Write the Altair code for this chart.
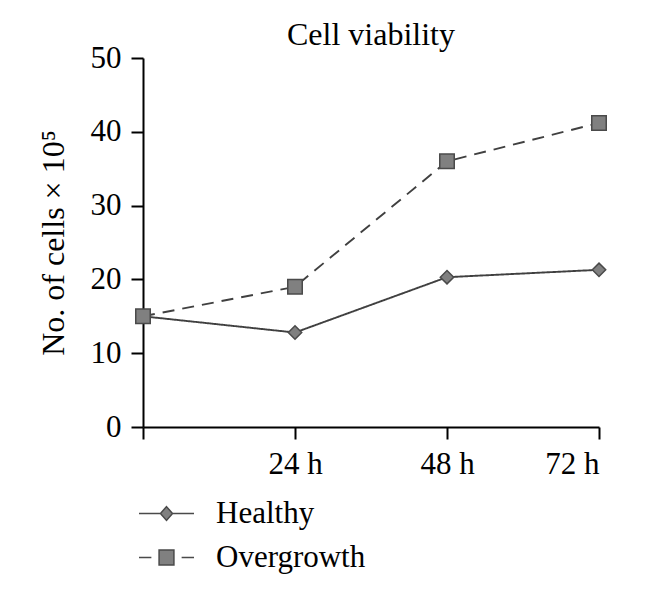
import altair as alt
import pandas as pd

hours = [0, 24, 48, 72]
healthy = [15.0, 12.8, 20.3, 21.3]
overgrowth = [15.0, 19.0, 36.0, 41.2]
series_names = ["Healthy", "Overgrowth"]

rows = []
for h, v in zip(hours, healthy):
    rows.append({"hour": h, "value": v, "series": "Healthy"})
for h, v in zip(hours, overgrowth):
    rows.append({"hour": h, "value": v, "series": "Overgrowth"})
df = pd.DataFrame(rows)
df["key"] = df["series"]

FONT = "Liberation Serif"
LINE = "#404040"
FILL = "#808080"
EDGE = "#4a4a4a"
FS = 31

diamond_path = "M-1,0H-0.22M0.22,0H1M0,-0.25L0.22,0L0,0.25L-0.22,0Z"
square_path = "M-1,0H-0.55M0.55,0H1M-0.27,-0.27H0.27V0.27H-0.27Z"

x_enc = alt.X(
    "hour:Q",
    scale=alt.Scale(domain=[0, 72], nice=False, zero=False),
    axis=alt.Axis(
        values=hours,
        labelExpr="datum.value == 0 ? '' : datum.value + ' h'",
        title=None,
        grid=False,
        domainColor="black",
        domainWidth=2,
        tickColor="black",
        tickWidth=2,
        tickSize=12,
        labelPadding=10,
        labelFont=FONT,
        labelFontSize=FS,
        labelColor="black",
    ),
)
y_enc = alt.Y(
    "value:Q",
    scale=alt.Scale(domain=[0, 50], nice=False),
    axis=alt.Axis(
        values=[0, 10, 20, 30, 40, 50],
        title="No. of cells × 10⁵",
        titleFont=FONT,
        titleFontSize=32,
        titleFontWeight="normal",
        titleColor="black",
        titlePadding=20,
        grid=False,
        domainColor="black",
        domainWidth=2,
        tickColor="black",
        tickWidth=2,
        tickSize=12,
        labelPadding=10,
        labelFont=FONT,
        labelFontSize=FS,
        labelColor="black",
    ),
)

lines = alt.Chart(df).mark_line(color=LINE, strokeWidth=1.9).encode(
    x=x_enc,
    y=y_enc,
    strokeDash=alt.StrokeDash(
        "series:N",
        scale=alt.Scale(domain=series_names, range=[[1, 0], [12, 8]]),
        legend=None,
    ),
    detail="series:N",
)

points = alt.Chart(df).mark_point(filled=True, fill=FILL, stroke=EDGE, strokeWidth=1.5, opacity=1).encode(
    x=x_enc,
    y=y_enc,
    shape=alt.Shape("series:N", scale=alt.Scale(domain=series_names, range=["diamond", "square"]), legend=None),
    size=alt.Size("series:N", scale=alt.Scale(domain=series_names, range=[180, 210]), legend=None),
    order=alt.Order("series:N"),
)

legend_layer = alt.Chart(df).mark_point(filled=False, fill=FILL, stroke=EDGE, strokeWidth=1.5, size=0, opacity=1).encode(
    x=x_enc,
    y=y_enc,
    shape=alt.Shape(
        "key:N",
        scale=alt.Scale(domain=series_names, range=[diamond_path, square_path]),
        legend=alt.Legend(
            orient="none",
            legendX=-5,
            legendY=427,
            title=None,
            symbolSize=3025,
            symbolStrokeWidth=1.5,
            symbolOpacity=1,
            labelFont=FONT,
            labelFontSize=FS,
            labelColor="black",
            labelOffset=21,
            rowPadding=-15,
            padding=0,
        ),
    ),
)

chart = (
    alt.layer(lines, points, legend_layer)
    .resolve_scale(shape="independent")
    .properties(
        width=456,
        height=369,
        background="white",
        view=alt.ViewBackground(strokeOpacity=0, strokeWidth=0),
        title=alt.TitleParams(
            "Cell viability",
            font=FONT,
            fontSize=32,
            fontWeight="normal",
            color="black",
            anchor="middle",
            frame="group",
            offset=0,
            dy=10,
        ),
        padding={"left": 29, "top": 11, "right": 10, "bottom": 2},
    )
    .configure_view(strokeOpacity=0, strokeWidth=0)
)

chart.save("out.html", embed_options={"renderer": "svg", "actions": False})
